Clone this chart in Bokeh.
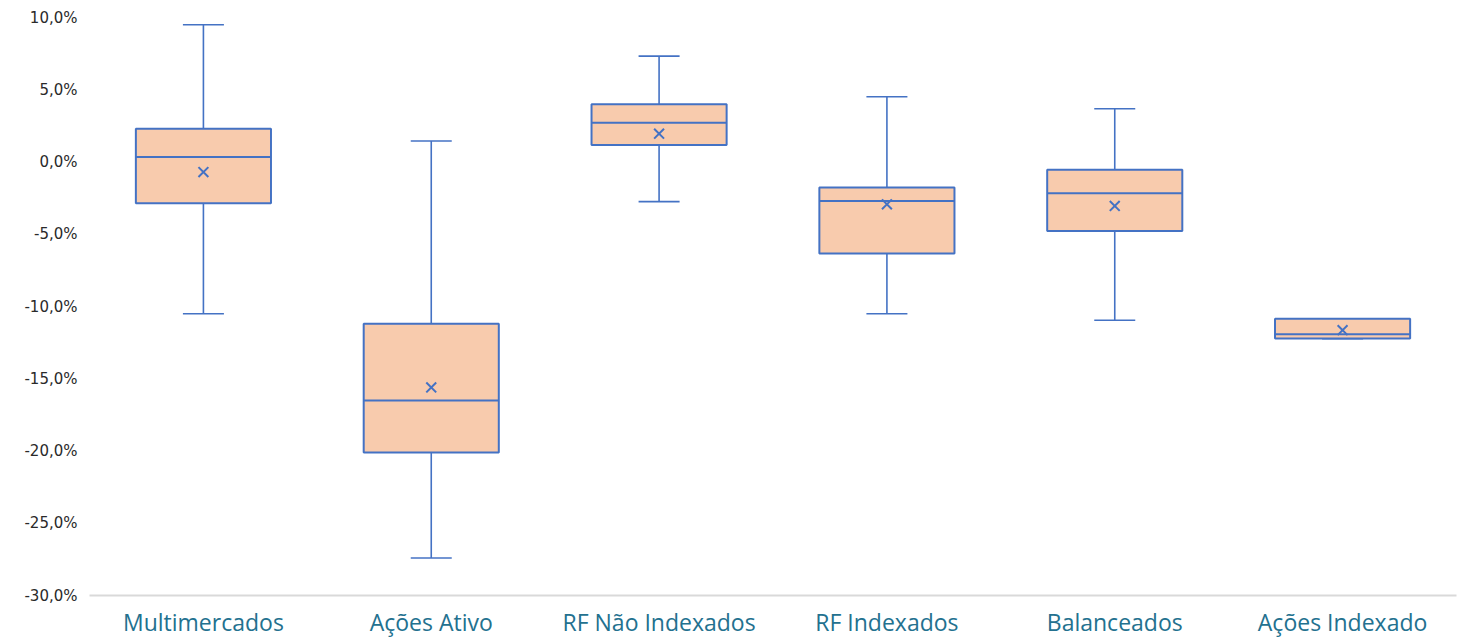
from bokeh.plotting import figure
from bokeh.models import FactorRange, Range1d, FixedTicker, ColumnDataSource
from bokeh.transform import dodge
from bokeh.embed import file_html
from bokeh.resources import INLINE

categories = ["Multimercados", "Ações Ativo", "RF Não Indexados", "RF Indexados", "Balanceados", "Ações Indexado"]
whisker_max = [9.5, 1.45, 7.33, 4.52, 3.69, -10.85]
q3 = [2.3, -11.2, 3.99, -1.77, -0.53, -10.85]
median = [0.35, -16.5, 2.72, -2.7, -2.17, -11.92]
mean = [-0.7, -15.6, 1.96, -2.93, -3.04, -11.64]
q1 = [-2.86, -20.1, 1.18, -6.34, -4.77, -12.22]
whisker_min = [-10.5, -27.4, -2.74, -10.5, -10.95, -12.22]

tick_values = [-30, -25, -20, -15, -10, -5, 0, 5, 10]
tick_labels = ["-30,0%", "-25,0%", "-20,0%", "-15,0%", "-10,0%", "-5,0%", "0,0%", "5,0%", "10,0%"]

src = ColumnDataSource(dict(cat=categories, wmax=whisker_max, q3=q3, med=median,
                            mean=mean, q1=q1, wmin=whisker_min))

BLUE = "#4472C4"
FILL = "#F8CBAD"

p = figure(x_range=FactorRange(*categories), y_range=Range1d(-30, 10),
           width=1473, height=640, output_backend="svg", toolbar_location=None,
           min_border_top=17, min_border_bottom=44, min_border_left=89, min_border_right=17)
p.outline_line_color = None
p.background_fill_color = "white"
p.border_fill_color = "white"
p.grid.grid_line_color = None

# whiskers
p.segment(x0="cat", y0="q3", x1="cat", y1="wmax", source=src, line_color=BLUE, line_width=1.6)
p.segment(x0="cat", y0="q1", x1="cat", y1="wmin", source=src, line_color=BLUE, line_width=1.6)
cap = 0.09
p.segment(x0=dodge("cat", -cap, range=p.x_range), y0="wmax",
          x1=dodge("cat", cap, range=p.x_range), y1="wmax", source=src, line_color=BLUE, line_width=1.6)
p.segment(x0=dodge("cat", -cap, range=p.x_range), y0="wmin",
          x1=dodge("cat", cap, range=p.x_range), y1="wmin", source=src, line_color=BLUE, line_width=1.6)
# boxes
p.vbar(x="cat", top="q3", bottom="q1", width=0.593, source=src,
       fill_color=FILL, line_color=BLUE, line_width=2)
# median
p.segment(x0=dodge("cat", -0.2965, range=p.x_range), y0="med",
          x1=dodge("cat", 0.2965, range=p.x_range), y1="med", source=src, line_color=BLUE, line_width=2)
# mean
p.scatter(x="cat", y="mean", source=src, marker="x", size=14, line_color=BLUE, line_width=2)

# axes
p.yaxis.ticker = FixedTicker(ticks=tick_values)
p.yaxis.major_label_overrides = {v: s for v, s in zip(tick_values, tick_labels)}
p.yaxis.axis_line_color = None
p.yaxis.major_tick_line_color = None
p.yaxis.minor_tick_line_color = None
p.yaxis.major_label_text_font = "DejaVu Sans"
p.yaxis.major_label_text_font_size = "15px"
p.yaxis.major_label_text_color = "#2A2A2A"
p.yaxis.major_label_standoff = 6

p.xaxis.axis_line_color = "#D9D9D9"
p.xaxis.axis_line_width = 2
p.xaxis.major_tick_line_color = None
p.xaxis.minor_tick_line_color = None
p.xaxis.major_label_text_font = "Open Sans"
p.xaxis.major_label_text_font_size = "23px"
p.xaxis.major_label_text_color = "#23718F"
p.xaxis.major_label_standoff = 4

open("out.html", "w").write(file_html(p, INLINE))
